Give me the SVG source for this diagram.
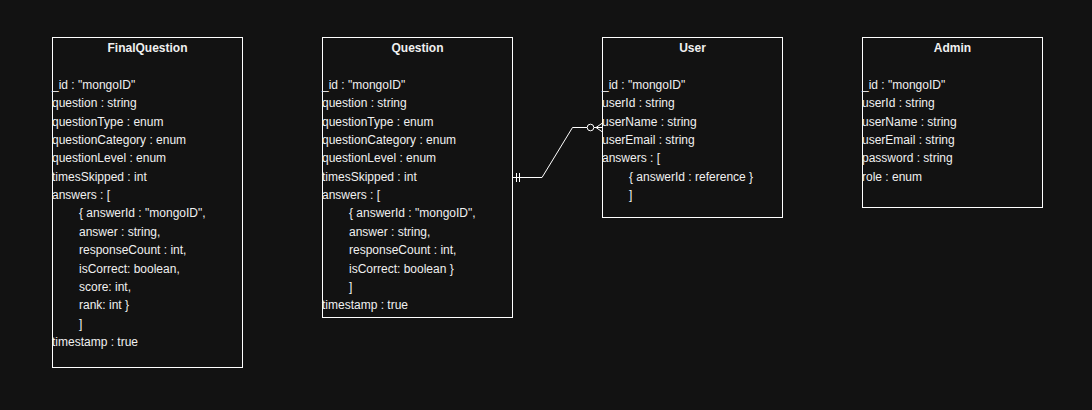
<svg xmlns="http://www.w3.org/2000/svg" width="1092" height="410" viewBox="0 0 1092 410">
<style>
.box{fill:#121212;stroke:#ffffff;stroke-width:1}
.t{font-family:"Liberation Sans",Arial,sans-serif;font-size:12px;fill:#f0f0f0}
.h{font-weight:bold;text-anchor:middle}
.c{fill:none;stroke:#ffffff;stroke-width:1}
</style>
<rect x="0" y="0" width="1092" height="410" fill="#121212"/>
<g id="connectors">
<path class="c" d="M512.5 177.5 H542 L572.5 127.5 H587"/>
<path class="c" d="M516.5 173 V182 M519.5 173 V182"/>
<circle class="c" cx="590.5" cy="127.5" r="3.3"/>
<path class="c" d="M594 127.5 H602.5 M596 127.5 L602.5 123 M596 127.5 L602.5 132"/>
</g>
<g id="FinalQuestion">
<rect class="box" x="52.5" y="37.5" width="190" height="330"/>
<text class="t h" x="147.5" y="52">FinalQuestion</text>
<text class="t" x="52" y="89">_id : "mongoID"</text>
<text class="t" x="52" y="107">question : string</text>
<text class="t" x="52" y="126">questionType : enum</text>
<text class="t" x="52" y="144">questionCategory : enum</text>
<text class="t" x="52" y="162">questionLevel : enum</text>
<text class="t" x="52" y="181">timesSkipped : int</text>
<text class="t" x="52" y="199">answers : [</text>
<text class="t" x="79" y="217">{ answerId : "mongoID",</text>
<text class="t" x="79" y="236">answer : string,</text>
<text class="t" x="79" y="254">responseCount : int,</text>
<text class="t" x="79" y="273">isCorrect: boolean,</text>
<text class="t" x="79" y="291">score: int,</text>
<text class="t" x="79" y="309">rank: int }</text>
<text class="t" x="79" y="328">]</text>
<text class="t" x="52" y="346">timestamp : true</text>
</g>
<g id="Question">
<rect class="box" x="322.5" y="37.5" width="190" height="280"/>
<text class="t h" x="417.5" y="52">Question</text>
<text class="t" x="322" y="89">_id : "mongoID"</text>
<text class="t" x="322" y="107">question : string</text>
<text class="t" x="322" y="126">questionType : enum</text>
<text class="t" x="322" y="144">questionCategory : enum</text>
<text class="t" x="322" y="162">questionLevel : enum</text>
<text class="t" x="322" y="181">timesSkipped : int</text>
<text class="t" x="322" y="199">answers : [</text>
<text class="t" x="349" y="217">{ answerId : "mongoID",</text>
<text class="t" x="349" y="236">answer : string,</text>
<text class="t" x="349" y="254">responseCount : int,</text>
<text class="t" x="349" y="273">isCorrect: boolean }</text>
<text class="t" x="349" y="291">]</text>
<text class="t" x="322" y="309">timestamp : true</text>
</g>
<g id="User">
<rect class="box" x="602.5" y="37.5" width="180" height="180"/>
<text class="t h" x="692.5" y="52">User</text>
<text class="t" x="602" y="89">_id : "mongoID"</text>
<text class="t" x="602" y="107">userId : string</text>
<text class="t" x="602" y="126">userName : string</text>
<text class="t" x="602" y="144">userEmail : string</text>
<text class="t" x="602" y="162">answers : [</text>
<text class="t" x="629" y="181">{ answerId : reference }</text>
<text class="t" x="629" y="199">]</text>
</g>
<g id="Admin">
<rect class="box" x="862.5" y="37.5" width="180" height="170"/>
<text class="t h" x="952.5" y="52">Admin</text>
<text class="t" x="862" y="89">_id : "mongoID"</text>
<text class="t" x="862" y="107">userId : string</text>
<text class="t" x="862" y="126">userName : string</text>
<text class="t" x="862" y="144">userEmail : string</text>
<text class="t" x="862" y="162">password : string</text>
<text class="t" x="862" y="181">role : enum</text>
</g>
</svg>
